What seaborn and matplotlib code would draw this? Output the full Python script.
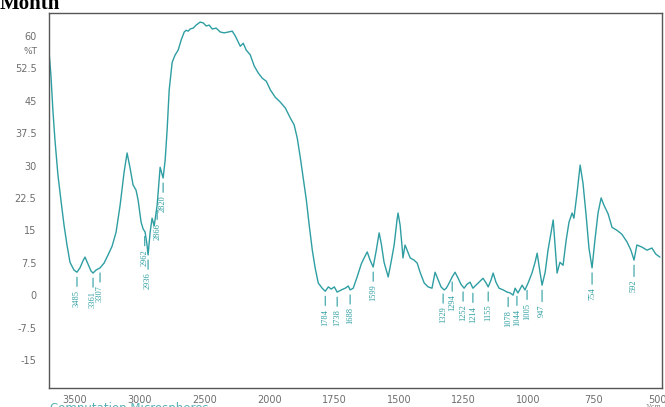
import numpy as np
import pandas as pd
import matplotlib
matplotlib.use("Agg")
import matplotlib.pyplot as plt
import seaborn as sns

# ---- data ----
wavenumber = [3701, 3686, 3671, 3655, 3632, 3609, 3585, 3562, 3539, 3508, 3485, 3462, 3439, 3423,
              3400, 3377, 3361, 3338, 3307, 3276, 3245, 3214, 3183, 3152, 3121, 3098, 3075, 3052,
              3029, 3013, 2990, 2974, 2959, 2944, 2936, 2920, 2905, 2889, 2866, 2843, 2820, 2804,
              2789, 2773, 2750, 2727, 2704, 2681, 2657, 2642, 2626, 2611, 2588, 2565, 2534, 2510,
              2487, 2464, 2441, 2410, 2379, 2348, 2317, 2286, 2263, 2240, 2224, 2201, 2178, 2147,
              2116, 2085, 2054, 2023, 1996, 1977, 1958, 1938, 1919, 1904, 1892, 1880, 1869, 1857,
              1846, 1834, 1823, 1811, 1796, 1784, 1772, 1761, 1749, 1738, 1722, 1707, 1695, 1688,
              1676, 1661, 1645, 1634, 1622, 1611, 1599, 1587, 1576, 1568, 1557, 1541, 1530, 1518,
              1507, 1503, 1495, 1487, 1484, 1476, 1468, 1456, 1441, 1429, 1418, 1402, 1387, 1372,
              1360, 1348, 1337, 1325, 1317, 1310, 1294, 1283, 1271, 1260, 1248, 1237, 1225, 1214,
              1202, 1190, 1175, 1163, 1155, 1144, 1136, 1125, 1113, 1097, 1082, 1070, 1059, 1051,
              1040, 1024, 1013, 1001, 986, 974, 966, 955, 947, 935, 924, 912, 904, 897, 889, 878,
              866, 854, 843, 831, 824, 812, 800, 789, 777, 766, 754, 743, 731, 719, 708, 692, 677,
              658, 639, 619, 604, 592, 581, 561, 542, 523, 508, 492]
transmittance = [56.3, 50.9, 42.8, 35.9, 27.8, 22.0, 16.2, 11.6, 7.6, 5.8, 5.3, 6.3, 7.9, 8.8,
                 7.2, 5.6, 5.1, 5.8, 6.3, 7.4, 9.3, 11.3, 14.6, 20.8, 28.5, 32.9, 29.4, 25.5,
                 24.3, 22.0, 16.9, 15.3, 14.6, 11.6, 9.3, 14.6, 17.8, 16.0, 20.8, 29.6, 27.1, 31.3,
                 38.2, 47.5, 53.9, 55.6, 56.7, 59.0, 60.9, 61.3, 61.1, 61.6, 61.8, 62.5, 63.2, 63.0,
                 62.3, 62.5, 61.6, 61.8, 60.9, 60.7, 60.9, 61.1, 60.0, 58.6, 57.6, 58.3, 56.7, 55.6,
                 53.0, 51.4, 50.2, 49.5, 47.5, 45.8, 44.7, 43.3, 41.0, 39.4, 36.3, 31.7, 27.1, 22.0,
                 16.2, 10.4, 6.3, 2.8, 1.6, 0.9, 1.9, 1.4, 1.9, 0.7, 1.2, 1.6, 2.1, 1.2,
                 1.6, 4.2, 7.2, 8.6, 10.0, 8.1, 6.5, 10.4, 14.4, 12.0, 7.6, 4.2, 7.6, 11.6,
                 17.4, 19.0, 16.2, 10.9, 8.6, 11.6, 10.4, 8.6, 8.1, 7.4, 5.3, 2.8, 1.9, 1.6,
                 5.3, 3.5, 1.9, 1.2, 1.6, 2.3, 4.2, 5.3, 3.9, 2.5, 1.6, 2.5, 3.0, 1.6,
                 2.3, 3.0, 3.9, 2.8, 1.9, 3.5, 5.1, 3.0, 1.6, 1.2, 0.7, 0.5, 0.0, 1.6,
                 0.5, 2.3, 1.2, 2.8, 5.1, 7.6, 9.7, 5.3, 2.3, 5.3, 10.4, 14.6, 17.4, 11.6, 5.1, 7.6,
                 6.9, 12.7, 16.9, 19.0, 17.8, 23.6, 30.1, 25.9, 18.5, 10.9, 6.3, 12.7, 19.0, 22.5, 20.8, 18.8, 15.7,
                 15.0, 14.1, 12.3, 10.4, 8.1, 11.6, 11.1, 10.4, 10.9, 9.5, 8.8]

peak_wn = [3485, 3361, 3307, 2962, 2936, 2866, 2820, 1784, 1738, 1688, 1599,
           1329, 1294, 1252, 1214, 1155, 1078, 1044, 1005, 947, 754, 592]

y_major = [-15, -7.5, 0, 7.5, 15, 22.5, 30, 37.5, 45, 52.5, 60]
y_labels = ["-15", "-7.5", "0", "7.5", "15", "22.5", "30", "37.5", "45", "52.5", "60"]
x_major = [3500, 3000, 2500, 2000, 1750, 1500, 1250, 1000, 750, 500]
x_labels = ["3500", "3000", "2500", "2000", "1750", "1500", "1250", "1000", "750", "500"]

TEAL = "#2e9ea2"
GRAY = "#6e6e6e"

df = pd.DataFrame({"wn": wavenumber, "T": transmittance})

sns.set_style("white")
plt.rcParams["font.family"] = ["DejaVu Sans"]

fig = plt.figure(figsize=(6.65, 4.07), dpi=100)
ax = fig.add_axes([49 / 665, 1 - 388 / 407, (662 - 49) / 665, (388 - 13) / 407])


def fwd(x):
    x = np.asarray(x, dtype=float)
    return np.where(x > 2000, 2000 + (x - 2000) / 2.0, x)


def inv(y):
    y = np.asarray(y, dtype=float)
    return np.where(y > 2000, 2000 + (y - 2000) * 2.0, y)


ax.set_xscale("function", functions=(fwd, inv))

sns.lineplot(data=df, x="wn", y="T", sort=False, estimator=None,
             color=TEAL, linewidth=1.0, ax=ax)

ax.set_xlim(3701, 484)
ax.set_ylim(-21.5, 65.3)

ax.set_xticks(x_major)
ax.set_xticklabels(x_labels)
minor_x = list(range(3700, 2000, -100)) + list(range(2000, 480, -50))
ax.set_xticks(minor_x, minor=True)
ax.set_yticks(y_major)
ax.set_yticklabels(y_labels)
ax.set_yticks(np.arange(-20.625, 65, 1.875), minor=True)

ax.tick_params(axis="y", which="major", direction="out", length=7, width=0.8,
               color="#555555", labelsize=7, labelcolor=GRAY, pad=2)
ax.tick_params(axis="y", which="minor", direction="out", length=3.5, width=0.8,
               color="#555555")
ax.tick_params(axis="x", which="major", direction="out", length=4.5, width=0.8,
               color="#555555", labelsize=7, labelcolor=GRAY, pad=0.5)
ax.tick_params(axis="x", which="minor", direction="out", length=2.5, width=0.8,
               color="#555555")

for s in ax.spines.values():
    s.set_visible(True)
    s.set_color("#555555")
    s.set_linewidth(1.0)

ax.set_xlabel("")
ax.set_ylabel("")

# peak labels
wn_arr = np.array(wavenumber[::-1], dtype=float)
t_arr = np.array(transmittance[::-1], dtype=float)
for p in peak_wn:
    tv = float(np.interp(p, wn_arr, t_arr))
    ax.annotate(str(p), xy=(p, tv - 1.0), xytext=(p, tv - 6.0),
                rotation=90, ha="center", va="center", fontsize=6, color=TEAL,
                family="Liberation Serif",
                arrowprops=dict(arrowstyle="-", color=TEAL, lw=0.8,
                                shrinkA=0, shrinkB=0.5))

fig.text(24 / 665, 1 - 52 / 407, "%T", fontsize=6.5, color=GRAY, ha="left", va="center")
fig.text(0.0, 1 - 9 / 407, "Month", fontsize=15, fontweight="bold",
         family="Liberation Serif", ha="left", va="baseline", color="black")
fig.text(50 / 665, 1 - 402 / 407, "Computation Microspheres", fontsize=8.5, color=TEAL,
         ha="left", va="top", alpha=0.8)
fig.text(645 / 665, 1 - 403 / 407, "1/cm", fontsize=4.5, color=GRAY, ha="left", va="top")

fig.savefig("out.png", dpi=100)
